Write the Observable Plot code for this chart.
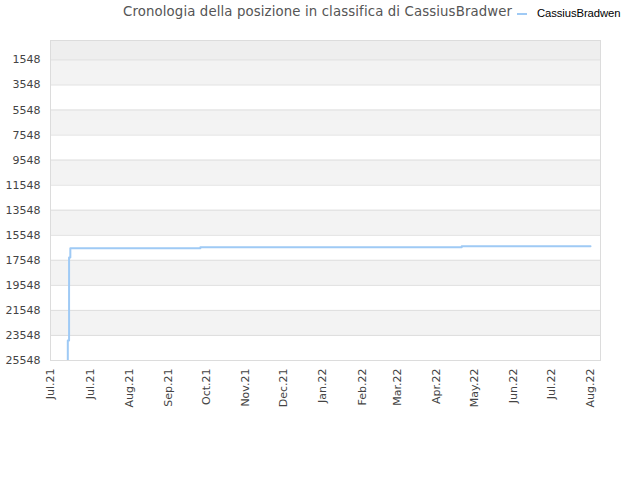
<!DOCTYPE html>
<html>
<head>
<meta charset="utf-8">
<script src="https://cdn.jsdelivr.net/npm/d3@7"></script>
<script src="https://cdn.jsdelivr.net/npm/@observablehq/plot@0.6"></script>
<style>
  html, body { margin: 0; padding: 0; background: #fff; }
  #wrap { position: relative; width: 640px; height: 480px; overflow: hidden; }
  #title { position: absolute; left: 123px; top: 4px; font: 13.3px "DejaVu Sans", sans-serif; color: #555; white-space: nowrap; letter-spacing: 0.12px; }
  #legend { position: absolute; left: 517px; top: 7px; font: 11.3px "Liberation Sans", Arial, sans-serif; color: #000; white-space: nowrap; letter-spacing: -0.1px; }
  #legend .sw { display: inline-block; width: 10px; height: 2px; background: #9fcaf5; vertical-align: middle; margin-right: 10px; }
  #chart { position: absolute; left: 0; top: 0; }
</style>
</head>
<body>
<div id="wrap">
  <div id="chart"></div>
  <div id="title">Cronologia della posizione in classifica di CassiusBradwer</div>
  <div id="legend"><span class="sw"></span>CassiusBradwen</div>
</div>
<script>
// Data
const dates = ["2021-06-13", "2021-06-13", "2021-06-14", "2021-06-15", "2021-09-26", "2022-04-21", "2022-08-01"];
const ranks = [25548, 23950, 17330, 16580, 16500, 16420, 16420];

// Axis ticks
const yTicks = [1548, 3548, 5548, 7548, 9548, 11548, 13548, 15548, 17548, 19548, 21548, 23548, 25548];
const xTickDates = ["2021-05-30T07:00", "2021-07-01", "2021-08-01", "2021-09-01", "2021-10-01", "2021-11-01", "2021-12-01",
  "2022-01-01", "2022-02-01", "2022-03-01", "2022-04-01", "2022-05-01", "2022-06-01", "2022-07-01", "2022-08-01"];
const xTickLabels = ["Jul.21", "Jul.21", "Aug.21", "Sep.21", "Oct.21", "Nov.21", "Dec.21",
  "Jan.22", "Feb.22", "Mar.22", "Apr.22", "May.22", "Jun.22", "Jul.22", "Aug.22"];

const xDomain = [new Date("2021-05-30T07:00Z"), new Date("2022-08-08T22:00Z")];
const yDomain = [0, 25548];

const series = dates.map((d, i) => ({date: new Date(d.length > 10 ? d + "Z" : d), rank: ranks[i]}));
const xTicks = xTickDates.map(d => new Date(d.length > 10 ? d + "Z" : d));
const labelOf = new Map(xTicks.map((d, i) => [+d, xTickLabels[i]]));

// Background bands built from the tick array
const bands = [{y1: yDomain[0], y2: yTicks[0], fill: "#eeeeee"}];
for (let i = 0; i < yTicks.length - 1; i++) {
  bands.push({y1: yTicks[i], y2: yTicks[i + 1], fill: i % 2 === 0 ? "#f3f3f3" : "#ffffff"});
}

const chart = Plot.plot({
  width: 640,
  height: 480,
  marginTop: 40,
  marginLeft: 50,
  marginRight: 40,
  marginBottom: 120,
  style: {fontFamily: "DejaVu Sans, sans-serif", fontSize: "11px", color: "#444", background: "transparent"},
  x: {type: "utc", domain: xDomain},
  y: {domain: yDomain, reverse: true},
  marks: [
    Plot.rect(bands, {x1: () => xDomain[0], x2: () => xDomain[1], y1: "y1", y2: "y2", fill: "fill"}),
    Plot.ruleY(yTicks, {stroke: "#dedede", strokeWidth: 1}),
    Plot.line(series, {x: "date", y: "rank", curve: "step-after", stroke: "#9fcaf5", strokeWidth: 2, clip: true}),
    Plot.frame({stroke: "#dcdcdc"}),
    Plot.axisY(yTicks, {tickSize: 0, tickPadding: 10, tickFormat: d => String(d), fontSize: 11}),
    Plot.axisX(xTicks, {tickSize: 0, tickPadding: 8, tickRotate: -90, tickFormat: d => labelOf.get(+d), fontSize: 11})
  ]
});
document.getElementById("chart").appendChild(chart);
</script>
</body>
</html>
